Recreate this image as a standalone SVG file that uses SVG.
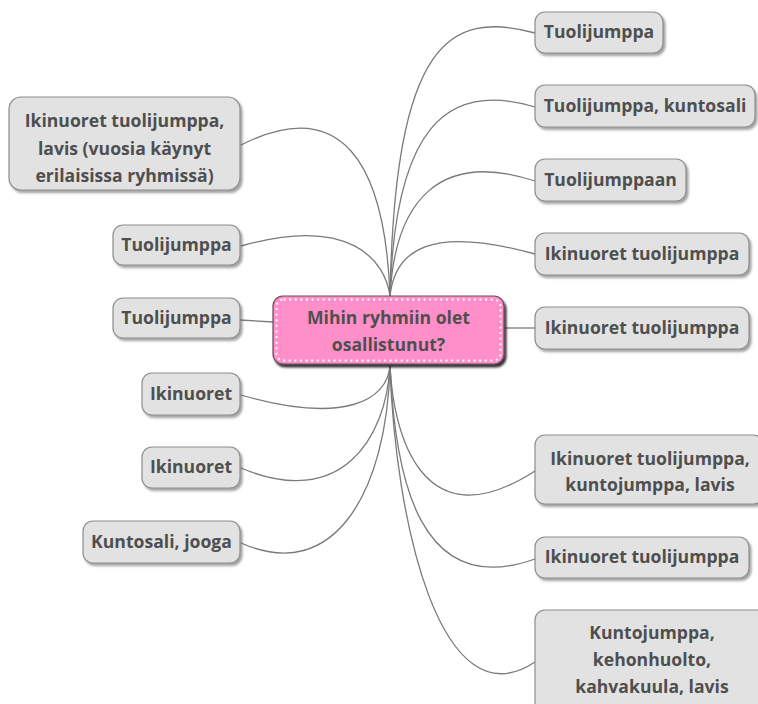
<svg xmlns="http://www.w3.org/2000/svg" width="758" height="704" viewBox="0 0 758 704">
  <defs>
    <filter id="shadow" x="-10%" y="-10%" width="125%" height="135%">
      <feDropShadow dx="2" dy="2.5" stdDeviation="1.2" flood-color="#555" flood-opacity="0.55"/>
    </filter>
    <filter id="shadowDark" x="-10%" y="-10%" width="125%" height="140%">
      <feDropShadow dx="2" dy="3" stdDeviation="1.3" flood-color="#000" flood-opacity="0.8"/>
    </filter>
  </defs>
  <style>
    .box { fill: #e2e2e2; stroke: #8e8e8e; stroke-width: 1.2; filter: url(#shadow); }
    .root { fill: #ff8fc9; stroke: #6a4a5a; stroke-width: 1.2; filter: url(#shadowDark); }
    .dots { fill: none; stroke: #ffffff; stroke-width: 2; stroke-dasharray: 2 3.6; }
    .lbl { font-family: "Open Sans", "Noto Sans", "DejaVu Sans", sans-serif; font-weight: 700; font-size: 17.6px; fill: #4f4f4f; text-anchor: middle; }
    .link { fill: none; stroke: #7a7a7a; stroke-width: 1.3; }
  </style>
  <rect width="758" height="704" fill="#ffffff"/>

  <!-- connectors -->
  <g id="connectors">
    <!-- upper right, from top of root -->
    <path class="link" d="M390,296 C395,40 450,10 535,33"/>
    <path class="link" d="M390,296 C395,130 445,80 535,107"/>
    <path class="link" d="M390,296 C395,200 440,150 535,181"/>
    <path class="link" d="M390,296 C395,250 430,225 535,254"/>
    <!-- upper left, from top of root -->
    <path class="link" d="M390,296 C385,160 340,95 241,145"/>
    <path class="link" d="M390,296 C385,260 350,215 241,246"/>
    <!-- side links -->
    <path class="link" d="M240,320 L273,322"/>
    <path class="link" d="M504,328 L535,328"/>
    <!-- lower right, from bottom of root -->
    <path class="link" d="M390,366 C393,430 420,545 535,471"/>
    <path class="link" d="M390,366 C395,480 420,600 535,559"/>
    <path class="link" d="M390,366 C395,520 440,725 535,662"/>
    <!-- lower left, from bottom of root -->
    <path class="link" d="M390,366 C387,400 345,425 241,395"/>
    <path class="link" d="M390,366 C386,440 340,510 241,468"/>
    <path class="link" d="M390,366 C387,490 335,585 241,543"/>
  </g>

  <!-- root topic -->
  <g id="root">
    <rect class="root" x="273" y="296" width="231" height="68" rx="10"/>
    <rect class="dots" x="276.5" y="299.5" width="224" height="61" rx="7"/>
    <text class="lbl" x="388.5" y="324">Mihin ryhmiin olet</text>
    <text class="lbl" x="388.5" y="351">osallistunut?</text>
  </g>

  <!-- right side -->
  <g id="r1">
    <rect class="box" x="535" y="12" width="128" height="41" rx="10"/>
    <text class="lbl" x="599" y="38">Tuolijumppa</text>
  </g>
  <g id="r2">
    <rect class="box" x="535" y="85" width="220" height="42" rx="10"/>
    <text class="lbl" x="645" y="112">Tuolijumppa, kuntosali</text>
  </g>
  <g id="r3">
    <rect class="box" x="535" y="159" width="151" height="42" rx="10"/>
    <text class="lbl" x="610.5" y="186">Tuolijumppaan</text>
  </g>
  <g id="r4">
    <rect class="box" x="535" y="233" width="214" height="42" rx="10"/>
    <text class="lbl" x="642" y="260">Ikinuoret tuolijumppa</text>
  </g>
  <g id="r5">
    <rect class="box" x="535" y="307" width="214" height="42" rx="10"/>
    <text class="lbl" x="642" y="334">Ikinuoret tuolijumppa</text>
  </g>
  <g id="r6">
    <rect class="box" x="535" y="435" width="228" height="69" rx="10"/>
    <text class="lbl" x="650" y="465">Ikinuoret tuolijumppa,</text>
    <text class="lbl" x="650" y="491">kuntojumppa, lavis</text>
  </g>
  <g id="r7">
    <rect class="box" x="535" y="537" width="214" height="41" rx="10"/>
    <text class="lbl" x="642" y="563">Ikinuoret tuolijumppa</text>
  </g>
  <g id="r8">
    <rect class="box" x="535" y="610" width="235" height="105" rx="10"/>
    <text class="lbl" x="652" y="639">Kuntojumppa,</text>
    <text class="lbl" x="652" y="666">kehonhuolto,</text>
    <text class="lbl" x="652" y="693">kahvakuula, lavis</text>
  </g>

  <!-- left side -->
  <g id="l1">
    <rect class="box" x="9" y="97" width="231" height="93" rx="12"/>
    <text class="lbl" x="124.5" y="127">Ikinuoret tuolijumppa,</text>
    <text class="lbl" x="124.5" y="155">lavis (vuosia käynyt</text>
    <text class="lbl" x="124.5" y="182">erilaisissa ryhmissä)</text>
  </g>
  <g id="l2">
    <rect class="box" x="113" y="225" width="127" height="40" rx="10"/>
    <text class="lbl" x="176.5" y="251">Tuolijumppa</text>
  </g>
  <g id="l3">
    <rect class="box" x="113" y="298" width="127" height="40" rx="10"/>
    <text class="lbl" x="176.5" y="324">Tuolijumppa</text>
  </g>
  <g id="l4">
    <rect class="box" x="142" y="373" width="98" height="42" rx="10"/>
    <text class="lbl" x="191" y="400">Ikinuoret</text>
  </g>
  <g id="l5">
    <rect class="box" x="142" y="447" width="98" height="41" rx="10"/>
    <text class="lbl" x="191" y="473">Ikinuoret</text>
  </g>
  <g id="l6">
    <rect class="box" x="83" y="521" width="157" height="42" rx="10"/>
    <text class="lbl" x="161.5" y="548">Kuntosali, jooga</text>
  </g>
</svg>
